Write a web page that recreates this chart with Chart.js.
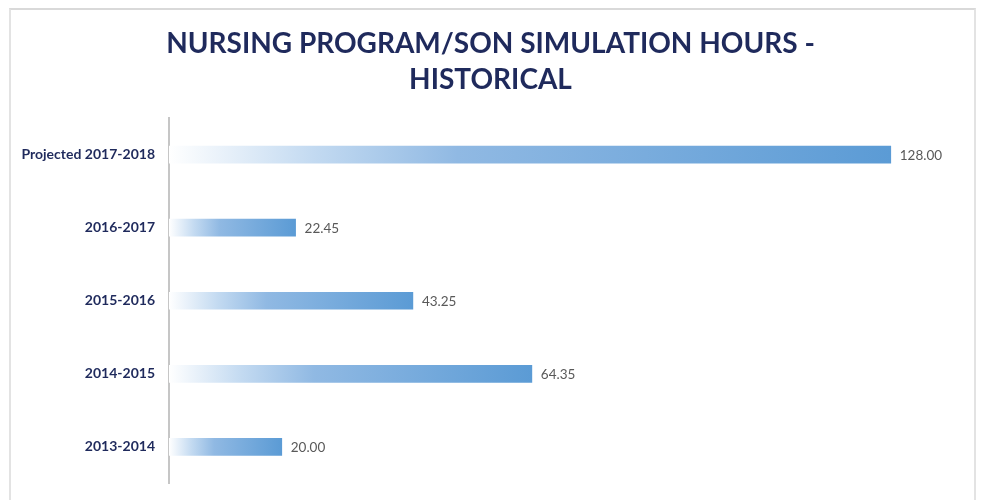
<!DOCTYPE html>
<html><head><meta charset="utf-8">
<script src="https://cdn.jsdelivr.net/npm/chart.js@4"></script>
<style>
html,body{margin:0;padding:0;background:#fff;}
#wrap{position:relative;width:981px;height:500px;}
#frame{position:absolute;left:9px;top:8px;width:967px;height:500px;border-top:2px solid #d9d9d9;border-left:2px solid #e3e3e3;border-right:2px solid #e3e3e3;box-sizing:border-box;}
canvas{position:absolute;left:0;top:0;}
</style></head>
<body><div id="wrap"><div id="frame"></div><canvas id="c" width="981" height="500"></canvas></div>
<script>
const categories = ['Projected 2017-2018', '2016-2017', '2015-2016', '2014-2015', '2013-2014'];
const hours = [128.00, 22.45, 43.25, 64.35, 20.00];
const titleLines = ['NURSING PROGRAM/SON SIMULATION HOURS -', 'HISTORICAL'];

const navy = '#1f2a5c';

function barGradient(ctx) {
  const chart = ctx.chart;
  const area = chart.chartArea;
  if (!area || ctx.dataIndex === undefined) return '#5b9bd5';
  const xs = chart.scales.x;
  const x0 = xs.getPixelForValue(0);
  const x1 = xs.getPixelForValue(ctx.raw);
  const g = chart.ctx.createLinearGradient(x0, 0, x1, 0);
  g.addColorStop(0, '#ffffff');
  g.addColorStop(0.2, '#c3daf1');
  g.addColorStop(0.4, '#90b9e3');
  g.addColorStop(1, '#5b9bd5');
  return g;
}

const valueLabels = {
  id: 'valueLabels',
  afterDatasetsDraw(chart) {
    const c = chart.ctx;
    const meta = chart.getDatasetMeta(0);
    c.save();
    c.font = '13.5px Lato, "Open Sans", sans-serif';
    c.fillStyle = '#595959';
    c.textAlign = 'left';
    c.textBaseline = 'middle';
    meta.data.forEach((el, i) => {
      c.fillText(hours[i].toFixed(2), el.x + 9, el.y + 1);
    });
    c.restore();
  }
};

new Chart(document.getElementById('c'), {
  type: 'bar',
  data: {
    labels: categories,
    datasets: [{
      data: hours,
      backgroundColor: barGradient,
      borderWidth: 0,
      barThickness: 17
    }]
  },
  options: {
    responsive: false,
    animation: false,
    indexAxis: 'y',
    layout: { padding: { left: 0, right: 0, top: 0, bottom: 16.5 } },
    plugins: {
      legend: { display: false },
      tooltip: { enabled: false },
      title: {
        display: true,
        text: titleLines,
        color: navy,
        font: { family: 'Lato, "Open Sans", sans-serif', size: 28, weight: 'bold', lineHeight: 1.286 },
        padding: { top: 26, bottom: 20 }
      }
    },
    scales: {
      x: {
        display: false,
        min: 0,
        max: 144
      },
      y: {
        grid: { display: false, drawTicks: false },
        border: { display: true, color: '#c6c6c6', width: 2 },
        ticks: {
          color: navy,
          padding: 14,
          font: { family: 'Lato, "Open Sans", sans-serif', size: 14, weight: 'bold' }
        },
        afterFit(scale) {
          scale.width = 169;
          scale.paddingTop = 0;
          scale.paddingBottom = 0;
        }
      }
    }
  },
  plugins: [valueLabels]
});
</script></body></html>
